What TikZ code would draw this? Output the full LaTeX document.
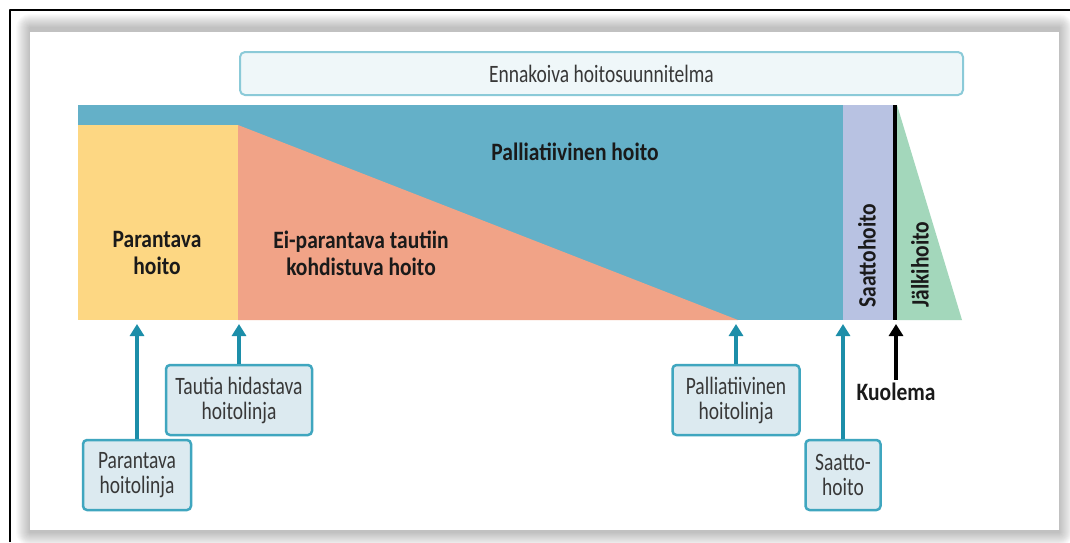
\documentclass[tikz,border=0pt]{standalone}
\usepackage{fontspec}
\setmainfont{Carlito}[FakeStretch=0.78]
\newfontfamily\phasefont{Carlito}[FakeStretch=0.86]
\usetikzlibrary{arrows.meta}
\definecolor{band}{HTML}{64B0C8}
\definecolor{cure}{HTML}{FDD783}
\definecolor{salmon}{HTML}{F1A387}
\definecolor{lav}{HTML}{B8C2E2}
\definecolor{grief}{HTML}{A3D7BB}
\definecolor{arrowteal}{HTML}{1C8EA9}
\definecolor{boxline}{HTML}{3FA6BF}
\definecolor{boxfill}{HTML}{DCEAF0}
\definecolor{planline}{HTML}{8BCAD8}
\definecolor{planfill}{HTML}{EFF7F9}
\definecolor{labeltext}{HTML}{383838}
\definecolor{phasetext}{HTML}{1A1A1A}

\begin{document}
\begin{tikzpicture}[x=1pt,y=-1pt,line join=round,
  linebox/.style={draw=boxline,line width=2.5pt,fill=boxfill,rounded corners=4pt,align=center,text=labeltext,font=\fontsize{25}{25}\selectfont,inner sep=0pt,minimum height=70pt},
  upline/.style={draw=arrowteal,line width=3.5pt,-{Triangle[width=14pt,length=12pt]}},
  phase/.style={font=\phasefont\bfseries\fontsize{25}{27}\selectfont,text=phasetext,align=center}]
\useasboundingbox (0,0) rectangle (1070,542);
\coordinate (base) at (0,324);
% panel with soft shadow
\foreach \s in {1,2,...,14}
  \fill[black,opacity=0.018,rounded corners=\s pt] (30-\s,28-\s) rectangle (1059+\s,532+\s);
\fill[white] (30,32) rectangle (1059,530);
\draw[line width=1.2pt] (10,542) -- (10,10) -- (1070,10);
% the care bar
\fill[band] (78,105) rectangle (843,320);
\fill[cure] (78,125) rectangle (238,320);
\fill[salmon] (238,125) -- (238,320) -- (738,320) -- cycle;
\fill[lav] (843,105) rectangle (893,320);
\fill[grief] (897,105) -- (897,320) -- (962,320) -- cycle;
\draw[line width=4pt] (895,105) -- (895,320);
\node[draw=planline,fill=planfill,line width=2pt,rounded corners=5pt,minimum width=723pt,minimum height=43pt,font=\fontsize{25}{25}\selectfont,text=labeltext] (plan) at (601.5,73.5) {Ennakoiva hoitosuunnitelma};
\node[phase] (palli) at (575,152) {Palliatiivinen hoito};
\node[phase] (curing) at (157,253) {Parantava\\hoito};
\node[phase] (noncure) at (361,253) {Ei-parantava tautiin\\kohdistuva hoito};
\node[phase,rotate=90,anchor=west] (eol) at (867,311) {Saattohoito};
\node[phase,rotate=90,anchor=west] (after) at (920,311) {Jälkihoito};
% treatment lines
\node[linebox,minimum width=108pt] (cureline) at (137,475) {Parantava\\hoitolinja};
\node[linebox,minimum width=146pt] (slowline) at (239,400) {Tautia hidastava\\hoitolinja};
\node[linebox,minimum width=127pt] (palline) at (736,400) {Palliatiivinen\\hoitolinja};
\node[linebox,minimum width=75pt] (eolline) at (843,475) {Saatto-\\hoito};
\node[phase] (death) at (896,392) {Kuolema};
\draw[upline] (cureline.north) -- (cureline.north |- base);
\draw[upline] (slowline.north) -- (slowline.north |- base);
\draw[upline] (palline.north) -- (palline.north |- base);
\draw[upline] (eolline.north) -- (eolline.north |- base);
\draw[upline,draw=black] (death.north) -- (death.north |- base);
\end{tikzpicture}
\end{document}
